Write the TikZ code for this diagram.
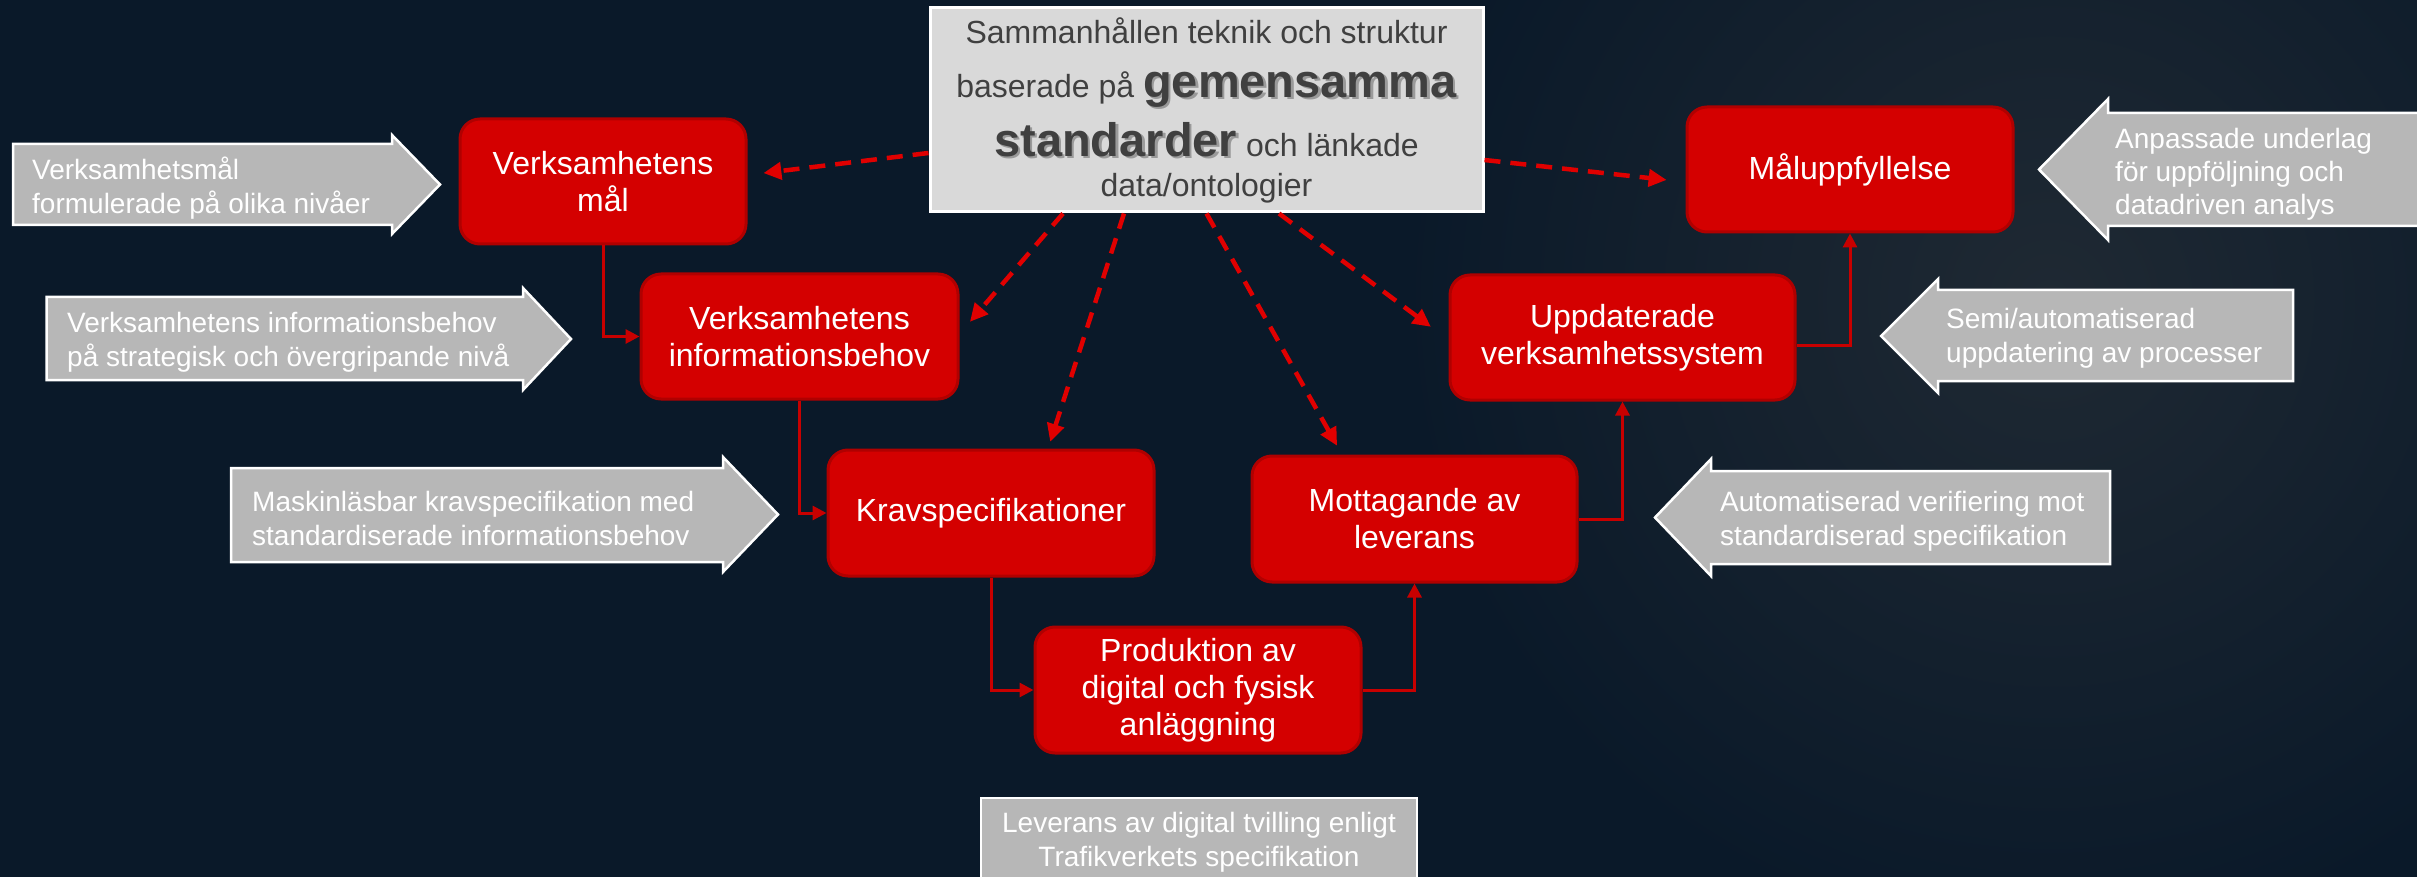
\documentclass[tikz,border=0pt]{standalone}
\usepackage{fontspec}
\setmainfont{Liberation Sans}
\usetikzlibrary{arrows.meta,calc}
\definecolor{bg}{HTML}{0A1929}
\definecolor{bglight}{HTML}{1F2933}
\definecolor{boxred}{HTML}{D40000}
\definecolor{boxredline}{HTML}{B00000}
\definecolor{linered}{HTML}{C80000}
\definecolor{dashred}{HTML}{E00000}
\definecolor{greyarrow}{HTML}{B7B7B7}
\definecolor{centralfill}{HTML}{D9D9D9}
\definecolor{centraltext}{HTML}{404040}
\definecolor{shadowgrey}{HTML}{9A9A9A}
\newcommand\shadowword[1]{\makebox[0pt][l]{\hspace{2.5pt}\raisebox{-2.5pt}{\textcolor{shadowgrey}{#1}}}#1}
\tikzset{
  redbox/.style={draw=boxredline, line width=3pt, fill=boxred, rounded corners=20pt,
    text=white, align=center, font=\fontsize{32}{37}\selectfont, inner sep=0pt},
  greyshape/.style={fill=greyarrow, draw=white, line width=2.5pt, line join=miter},
  greytext/.style={text=white, align=left, font=\fontsize{28}{34}\selectfont, inner sep=0pt, anchor=west},
  centralbox/.style={fill=centralfill, draw=white, line width=3pt, text=centraltext, align=center,
    font={\fontsize{32}{40}\selectfont\lineskiplimit=-100pt}, inner sep=0pt},
  levbox/.style={fill=greyarrow, draw=white, line width=2.5pt, text=white, align=center,
    font=\fontsize{28}{34}\selectfont, inner sep=0pt},
  conn/.style={draw=linered, line width=3pt, -{Triangle[length=14pt,width=14pt]}},
  dasharrow/.style={draw=dashred, line width=4.5pt, dash pattern=on 16pt off 10pt,
    -{Triangle[length=18pt,width=17pt]}}
}
\begin{document}
\begin{tikzpicture}[x=1pt,y=-1pt]
\useasboundingbox (0,0) rectangle (2417,877);
\clip (0,0) rectangle (2417,877);
\fill[bg] (0,0) rectangle (2417,877);
\shade[inner color=bglight, outer color=bg] (2050,300) circle[radius=650pt];

% grey input arrows
\path[greyshape] (13,144) -- (392,144) -- (392,135) -- (440,184.5) -- (392,234) -- (392,225) -- (13,225) -- cycle;
\node[greytext] (t1) at (32,188) {Verksamhetsmål\\formulerade på olika nivåer};

\path[greyshape] (46.5,297) -- (523,297) -- (523,288) -- (571,339) -- (523,390) -- (523,380) -- (46.5,380) -- cycle;
\node[greytext] (t2) at (67,342) {Verksamhetens informationsbehov\\på strategisk och övergripande nivå};

\path[greyshape] (231,468) -- (723,468) -- (723,457) -- (778,514.5) -- (723,572) -- (723,562) -- (231,562) -- cycle;
\node[greytext] (t3) at (252,518) {Maskinläsbar kravspecifikation med\\standardiserade informationsbehov};

\path[greyshape] (2110,471) -- (1711,471) -- (1711,459) -- (1655,517.5) -- (1711,576) -- (1711,564) -- (2110,564) -- cycle;
\node[greytext] (t4) at (1720,521) {Automatiserad verifiering mot\\standardiserad specifikation};

\path[greyshape] (2293,290) -- (1938,290) -- (1938,279) -- (1881,336) -- (1938,393) -- (1938,381) -- (2293,381) -- cycle;
\node[greytext] (t5) at (1946,338) {Semi/automatiserad\\uppdatering av processer};

\path[greyshape] (2440,113) -- (2108,113) -- (2108,99) -- (2039,169.5) -- (2108,240) -- (2108,226) -- (2440,226) -- cycle;
\node[greytext, font=\fontsize{28}{33}\selectfont] (t6) at (2115,174) {Anpassade underlag\\för uppföljning och\\datadriven analys};

% red process boxes
\node[redbox, minimum width=286pt, minimum height=125pt] (mal) at (603,181.5) {Verksamhetens\\mål};
\node[redbox, minimum width=317pt, minimum height=125pt] (info) at (799.5,336.5) {Verksamhetens\\informationsbehov};
\node[redbox, minimum width=326pt, minimum height=126pt] (krav) at (991,513) {Kravspecifikationer};
\node[redbox, minimum width=326pt, minimum height=126pt] (prod) at (1198,690) {Produktion av\\digital och fysisk\\anläggning};
\node[redbox, minimum width=325pt, minimum height=126pt] (mott) at (1414.5,519) {Mottagande av\\leverans};
\node[redbox, minimum width=345pt, minimum height=125pt] (uppd) at (1622.5,337.5) {Uppdaterade\\verksamhetssystem};
\node[redbox, minimum width=326pt, minimum height=125pt] (malu) at (1850,169.5) {Måluppfyllelse};

% central box
\node[centralbox, minimum width=553pt, minimum height=204pt] (central) at (1206.5,110)
  {Sammanhållen teknik och struktur\\[14pt]
   baserade på {\fontsize{47}{47}\selectfont\bfseries\shadowword{gemensamma}}\\[19pt]
   {\fontsize{47}{47}\selectfont\bfseries\shadowword{standarder}} och länkade\\
   data/ontologier};

% bottom box
\node[levbox, minimum width=436pt, minimum height=88pt] (lev) at (1199,842)
  {Leverans av digital tvilling enligt\\Trafikverkets specifikation};

% solid connectors
\draw[conn] (mal.south) |- (info.west);
\draw[conn] (info.south) |- (krav.west);
\draw[conn] (krav.south) |- (prod.west);
\draw[conn] (prod.east) -| (mott.south);
\draw[conn] (mott.east) -| (uppd.south);
\draw[conn] ([yshift=-8pt]uppd.east) -| (malu.south);

% dashed connectors
\draw[dasharrow, shorten >=16pt] ([yshift=-43pt]central.west) -- ([yshift=6.5pt]mal.east);
\draw[dasharrow, shorten >=19pt] ([yshift=-50pt]central.east) -- ([yshift=-12.5pt]malu.west);
\draw[dasharrow, shorten >=16pt] ([xshift=-143.5pt]central.south) -- ([yshift=2.5pt]info.east);
\draw[dasharrow, shorten >=7pt] ([xshift=-82.5pt]central.south) -- ([xshift=57pt]krav.north);
\draw[dasharrow, shorten >=10pt] (central.south) -- ([xshift=-72.5pt]mott.north);
\draw[dasharrow, shorten >=22pt] ([xshift=72.5pt]central.south) -- ([yshift=-2.5pt]uppd.west);
\end{tikzpicture}
\end{document}
